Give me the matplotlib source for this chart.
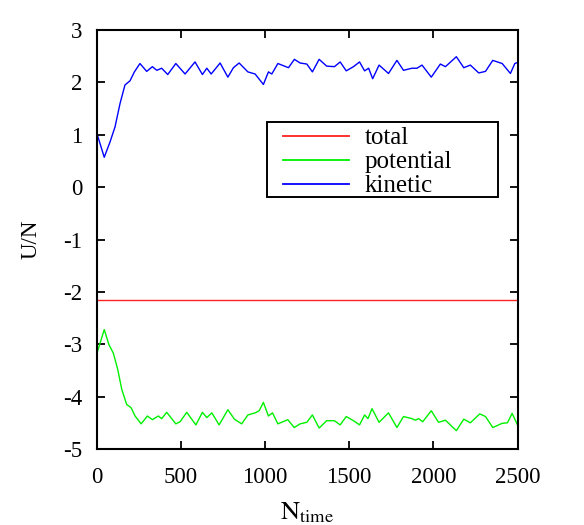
import matplotlib
matplotlib.use("Agg")
import matplotlib.pyplot as plt
from matplotlib.patches import Rectangle

# ---- data ----
kin_t = [0, 46, 80, 110, 140, 169, 199, 225, 258, 298, 332, 358, 387, 423, 471, 526,
         585, 629, 655, 681, 734, 780, 813, 847, 899, 942, 991, 1021, 1041, 1077,
         1140, 1175, 1209, 1249, 1282, 1322, 1367, 1413, 1447, 1483, 1526, 1562,
         1592, 1616, 1640, 1678, 1734, 1784, 1823, 1873, 1903, 1933, 1988, 2042,
         2072, 2137, 2181, 2220, 2270, 2310, 2353, 2409, 2458, 2484, 2500]
kin_u = [1.05, 0.57, 0.86, 1.15, 1.60, 1.95, 2.03, 2.20, 2.36, 2.21, 2.30, 2.23, 2.27,
         2.15, 2.36, 2.16, 2.39, 2.15, 2.27, 2.16, 2.37, 2.10, 2.28, 2.37, 2.20, 2.16,
         1.96, 2.20, 2.16, 2.36, 2.28, 2.44, 2.37, 2.35, 2.20, 2.44, 2.31, 2.30, 2.39,
         2.22, 2.30, 2.39, 2.22, 2.27, 2.07, 2.33, 2.17, 2.42, 2.23, 2.27, 2.27, 2.33,
         2.10, 2.35, 2.30, 2.49, 2.28, 2.33, 2.18, 2.21, 2.42, 2.36, 2.17, 2.36, 2.38]

pot_t = [0, 46, 74, 100, 126, 150, 179, 205, 229, 265, 302, 332, 367, 387, 417, 471,
         496, 536, 590, 629, 655, 685, 728, 780, 819, 862, 899, 942, 966, 991, 1021,
         1045, 1077, 1136, 1174, 1209, 1249, 1282, 1322, 1367, 1413, 1447, 1483,
         1526, 1562, 1592, 1612, 1636, 1678, 1734, 1784, 1823, 1873, 1893, 1913,
         1937, 1988, 2031, 2072, 2137, 2181, 2220, 2276, 2310, 2353, 2409, 2440,
         2468, 2500]
pot_u = [-3.20, -2.72, -3.01, -3.17, -3.48, -3.86, -4.15, -4.21, -4.37, -4.52, -4.37,
         -4.44, -4.37, -4.42, -4.30, -4.52, -4.48, -4.30, -4.54, -4.30, -4.40, -4.31,
         -4.54, -4.25, -4.43, -4.52, -4.35, -4.31, -4.27, -4.11, -4.37, -4.31, -4.52,
         -4.44, -4.59, -4.52, -4.49, -4.35, -4.60, -4.46, -4.46, -4.54, -4.38, -4.46,
         -4.54, -4.35, -4.42, -4.23, -4.49, -4.31, -4.59, -4.38, -4.42, -4.45, -4.42,
         -4.48, -4.27, -4.49, -4.45, -4.65, -4.43, -4.50, -4.33, -4.38, -4.59, -4.51,
         -4.50, -4.32, -4.54]

tot_t = [0, 2500]
tot_u = [-2.15, -2.15]

labels = ["total", "potential", "kinetic"]
xticks = [0, 500, 1000, 1500, 2000, 2500]
yticks = [3, 2, 1, 0, -1, -2, -3, -4, -5]

# ---- style ----
plt.rcParams['font.family'] = ['Liberation Serif', 'DejaVu Serif']
plt.rcParams['mathtext.fontset'] = 'stix'
plt.rcParams['axes.unicode_minus'] = False
fs = 16.5

fig = plt.figure(figsize=(5.84, 5.25), dpi=100)
ax = fig.add_axes([96.5/584, 1-449/525, 421/584, 419/525])

ax.plot(tot_t, tot_u, color='#ff2020', lw=1.0, label=labels[0])
ax.plot(pot_t, pot_u, color='#00f000', lw=1.0, label=labels[1])
ax.plot(kin_t, kin_u, color='#0000ff', lw=1.0, label=labels[2])

ax.set_xlim(0, 2500)
ax.set_ylim(-5, 3)
ax.set_xticks(xticks)
ax.set_yticks(yticks)
ax.tick_params(direction='in', length=6, width=1.3, top=True, right=True,
               labelsize=fs)
ax.tick_params(axis='x', pad=13)
ax.tick_params(axis='y', pad=10)
for s in ax.spines.values():
    s.set_linewidth(1.5)

ax.set_xlabel(r'$\mathrm{N}_{\mathrm{time}}$', fontsize=19, labelpad=9)
ax.set_ylabel('U/N', fontsize=16.5, labelpad=16)

leg = ax.legend(loc='upper left', bbox_to_anchor=(0.443, 0.769), borderaxespad=0,
                fontsize=18, frameon=False,
                handlelength=2.64, handletextpad=0.64, labelspacing=0.06,
                borderpad=0.0)
for l in leg.get_lines():
    l.set_linewidth(1.3)

# gnuplot-style key box
x0 = (267 - 96.5) / 421
x1 = (498 - 96.5) / 421
y0 = (449 - 197) / 419
y1 = (449 - 122) / 419
ax.add_patch(Rectangle((x0, y0), x1 - x0, y1 - y0, transform=ax.transAxes,
                       fill=False, edgecolor='black', lw=1.4, zorder=5))

fig.savefig('out.png', dpi=100)
